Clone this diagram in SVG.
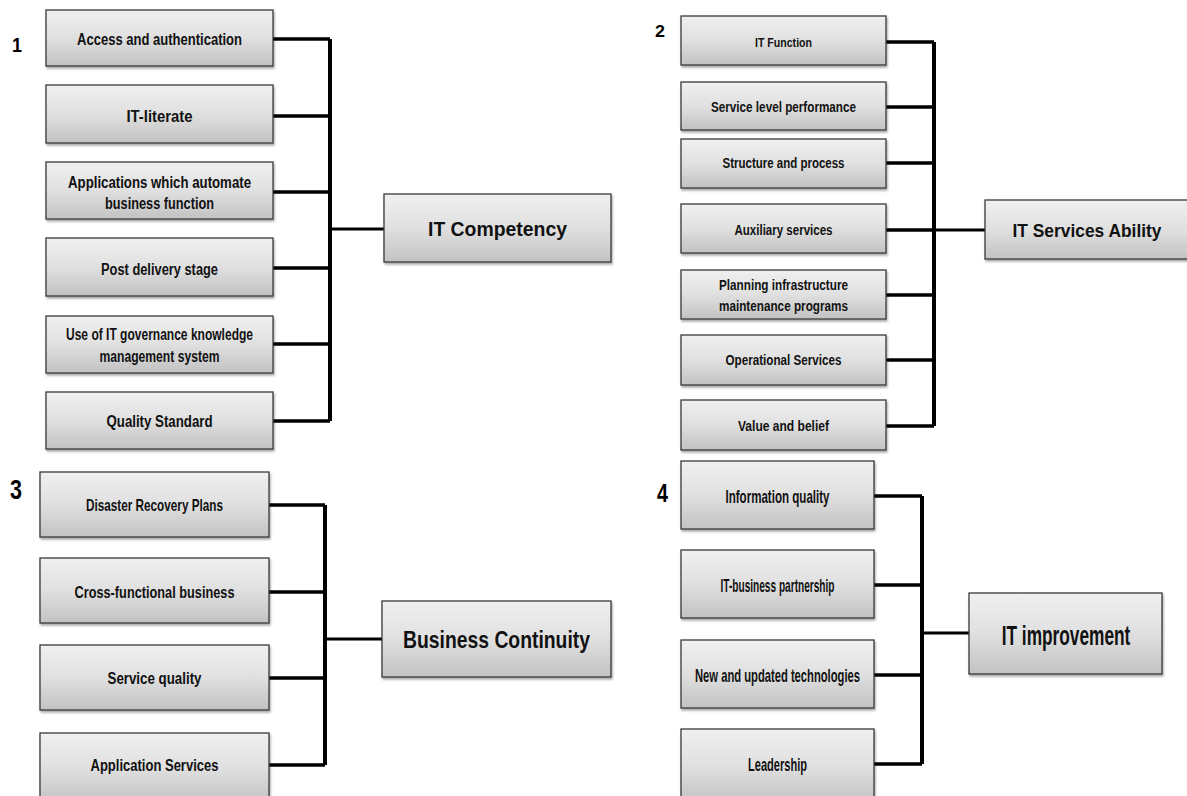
<svg xmlns="http://www.w3.org/2000/svg" width="1187" height="796" viewBox="0 0 1187 796">
<defs>
<linearGradient id="g" x1="0" y1="0" x2="0" y2="1">
<stop offset="0" stop-color="#f0f0f0"/>
<stop offset="0.5" stop-color="#e0e0e0"/>
<stop offset="1" stop-color="#c2c2c2"/>
</linearGradient>
<filter id="sh" x="-10%" y="-10%" width="120%" height="130%">
<feDropShadow dx="1" dy="2" stdDeviation="1.2" flood-color="#000" flood-opacity="0.35"/>
</filter>
</defs>
<style>
.box{fill:url(#g);stroke:#3a3a3a;stroke-width:1.3;filter:url(#sh)}
.t{font-family:"Liberation Sans",Arial,sans-serif;font-weight:bold;fill:#111;text-anchor:middle}
.c1{font-size:16px}
.c2{font-size:14.5px}
.c3{font-size:17px}
.c4{font-size:19px}
.num{font-family:"Liberation Sans",Arial,sans-serif;font-weight:bold;fill:#000}
.bus{fill:none;stroke:#000;stroke-width:4}
.arm{fill:none;stroke:#000;stroke-width:3.5}
.link{fill:none;stroke:#000;stroke-width:3}
</style>
<rect width="1187" height="796" fill="#fff"/>

<g id="connectors">
<path class="bus" d="M330 39V421"/>
<path class="arm" d="M273 39H330M273 116H330M273 192H330M273 268H330M273 344H330M273 421H330"/>
<path class="link" d="M330 229H384"/>
<path class="bus" d="M934 42V426"/>
<path class="arm" d="M886 42H934M886 107H934M886 163H934M886 230H934M886 295H934M886 360H934M886 426H934"/>
<path class="link" d="M934 230H985"/>
<path class="bus" d="M325 505V765"/>
<path class="arm" d="M269 505H325M269 592H325M269 678H325M269 765H325"/>
<path class="link" d="M325 639H382"/>
<path class="bus" d="M922 496V764"/>
<path class="arm" d="M874 496H922M874 585H922M874 675H922M874 764H922"/>
<path class="link" d="M922 633H969"/>
</g>

<g id="numbers">
<text class="num" x="12" y="52" font-size="19.5" textLength="10" lengthAdjust="spacingAndGlyphs">1</text>
<text class="num" x="655" y="37" font-size="17" textLength="10" lengthAdjust="spacingAndGlyphs">2</text>
<text class="num" x="10" y="499" font-size="27" textLength="12" lengthAdjust="spacingAndGlyphs">3</text>
<text class="num" x="657" y="502" font-size="26" textLength="11" lengthAdjust="spacingAndGlyphs">4</text>
</g>

<g id="n1a"><rect class="box" x="46" y="10" width="227" height="56"/><text class="t c1" x="159.5" y="45" textLength="165" lengthAdjust="spacingAndGlyphs">Access and authentication</text></g>
<g id="n1b"><rect class="box" x="46" y="85" width="227" height="58"/><text class="t c1" x="159.5" y="122" textLength="66" lengthAdjust="spacingAndGlyphs">IT-literate</text></g>
<g id="n1c"><rect class="box" x="46" y="162" width="227" height="57"/><text class="t c1" x="159.5" y="188" textLength="183" lengthAdjust="spacingAndGlyphs">Applications which automate</text><text class="t c1" x="159.5" y="209" textLength="109" lengthAdjust="spacingAndGlyphs">business function</text></g>
<g id="n1d"><rect class="box" x="46" y="238" width="227" height="58"/><text class="t c1" x="159.5" y="275" textLength="117" lengthAdjust="spacingAndGlyphs">Post delivery stage</text></g>
<g id="n1e"><rect class="box" x="46" y="316" width="227" height="57"/><text class="t c1" x="159.5" y="340" textLength="187" lengthAdjust="spacingAndGlyphs">Use of IT governance knowledge</text><text class="t c1" x="159.5" y="362" textLength="120" lengthAdjust="spacingAndGlyphs">management system</text></g>
<g id="n1f"><rect class="box" x="46" y="392" width="227" height="57"/><text class="t c1" x="159.5" y="427" textLength="106" lengthAdjust="spacingAndGlyphs">Quality Standard</text></g>
<g id="p1"><rect class="box" x="384" y="194" width="227" height="68"/><text class="t" font-size="20" x="497.5" y="236" textLength="139" lengthAdjust="spacingAndGlyphs">IT Competency</text></g>

<g id="n2a"><rect class="box" x="681" y="16" width="205" height="49"/><text class="t" font-size="13" x="783.5" y="47" textLength="57" lengthAdjust="spacingAndGlyphs">IT Function</text></g>
<g id="n2b"><rect class="box" x="681" y="82" width="205" height="48"/><text class="t c2" x="783.5" y="112" textLength="145" lengthAdjust="spacingAndGlyphs">Service level performance</text></g>
<g id="n2c"><rect class="box" x="681" y="139" width="205" height="49"/><text class="t c2" x="783.5" y="168" textLength="122" lengthAdjust="spacingAndGlyphs">Structure and process</text></g>
<g id="n2d"><rect class="box" x="681" y="204" width="205" height="49"/><text class="t c2" x="783.5" y="235" textLength="98" lengthAdjust="spacingAndGlyphs">Auxiliary services</text></g>
<g id="n2e"><rect class="box" x="681" y="270" width="205" height="49"/><text class="t c2" x="783.5" y="290" textLength="129" lengthAdjust="spacingAndGlyphs">Planning infrastructure</text><text class="t c2" x="783.5" y="311" textLength="129" lengthAdjust="spacingAndGlyphs">maintenance programs</text></g>
<g id="n2f"><rect class="box" x="681" y="335" width="205" height="50"/><text class="t c2" x="783.5" y="365" textLength="116" lengthAdjust="spacingAndGlyphs">Operational Services</text></g>
<g id="n2g"><rect class="box" x="681" y="400" width="205" height="50"/><text class="t c2" x="783.5" y="431" textLength="91" lengthAdjust="spacingAndGlyphs">Value and belief</text></g>
<g id="p2"><rect class="box" x="985" y="200" width="205" height="59"/><text class="t" font-size="18.5" x="1087" y="237" textLength="149" lengthAdjust="spacingAndGlyphs">IT Services Ability</text></g>

<g id="n3a"><rect class="box" x="40" y="472" width="229" height="65"/><text class="t c3" x="154.5" y="511" textLength="137" lengthAdjust="spacingAndGlyphs">Disaster Recovery Plans</text></g>
<g id="n3b"><rect class="box" x="40" y="558" width="229" height="65"/><text class="t c3" x="154.5" y="598" textLength="160" lengthAdjust="spacingAndGlyphs">Cross-functional business</text></g>
<g id="n3c"><rect class="box" x="40" y="645" width="229" height="65"/><text class="t c3" x="154.5" y="684" textLength="94" lengthAdjust="spacingAndGlyphs">Service quality</text></g>
<g id="n3d"><rect class="box" x="40" y="733" width="229" height="70"/><text class="t c3" x="154.5" y="771" textLength="128" lengthAdjust="spacingAndGlyphs">Application Services</text></g>
<g id="p3"><rect class="box" x="382" y="601" width="229" height="76"/><text class="t" font-size="24" x="496.5" y="648" textLength="187" lengthAdjust="spacingAndGlyphs">Business Continuity</text></g>

<g id="n4a"><rect class="box" x="681" y="461" width="193" height="68"/><text class="t c4" x="777.5" y="503" textLength="104" lengthAdjust="spacingAndGlyphs">Information quality</text></g>
<g id="n4b"><rect class="box" x="681" y="550" width="193" height="68"/><text class="t c4" x="777.5" y="592" textLength="114" lengthAdjust="spacingAndGlyphs">IT-business partnership</text></g>
<g id="n4c"><rect class="box" x="681" y="640" width="193" height="68"/><text class="t c4" x="777.5" y="682" textLength="165" lengthAdjust="spacingAndGlyphs">New and updated technologies</text></g>
<g id="n4d"><rect class="box" x="681" y="729" width="193" height="74"/><text class="t c4" x="777.5" y="771" textLength="59" lengthAdjust="spacingAndGlyphs">Leadership</text></g>
<g id="p4"><rect class="box" x="969" y="593" width="193" height="81"/><text class="t" font-size="27" transform="translate(1066 644.5) scale(0.64 1)" x="0" y="0">IT improvement</text></g>
</svg>
